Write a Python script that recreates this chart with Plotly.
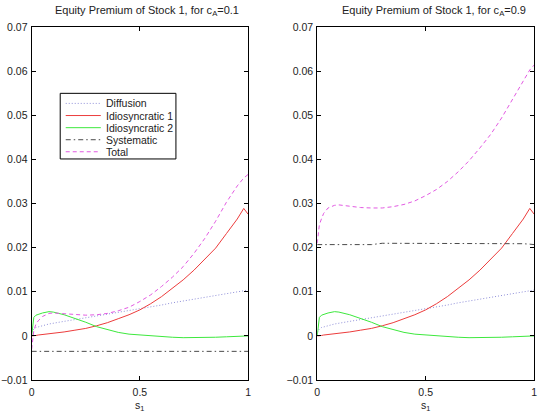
import plotly.graph_objects as go

# ---------------- data ----------------
s1 = [0, 0.005, 0.01, 0.02, 0.03, 0.05, 0.08, 0.1, 0.15, 0.2, 0.25, 0.3, 0.35,
      0.4, 0.45, 0.5, 0.55, 0.6, 0.65, 0.7, 0.75, 0.8, 0.85, 0.9, 0.95, 0.98, 1.0]

diffusion = [0.0008, 0.0013, 0.0016, 0.0019, 0.0020, 0.0023, 0.0027, 0.0029, 0.0033,
             0.0037, 0.0041, 0.0045, 0.0050, 0.0054, 0.0058, 0.0062, 0.0066, 0.0070,
             0.0075, 0.0079, 0.0083, 0.0087, 0.0091, 0.0095, 0.0099, 0.0102, 0.0104]

idio1 = [0.0, 0.0, 0.0001, 0.0001, 0.0002, 0.0003, 0.0005, 0.0006, 0.0009, 0.0013,
         0.0017, 0.0023, 0.0030, 0.0039, 0.0048, 0.0059, 0.0073, 0.0089, 0.0107,
         0.0127, 0.0149, 0.0173, 0.0199, 0.0232, 0.0265, 0.0289, 0.0276]

idio2 = [0.0, 0.0030, 0.0042, 0.0047, 0.0049, 0.0052, 0.0055, 0.0054, 0.0048, 0.0040,
         0.0031, 0.0021, 0.0014, 0.0008, 0.0004, 0.0002, 0.0000, -0.0002, -0.0003,
         -0.0004, -0.0004, -0.0004, -0.0003, -0.0002, -0.0001, 0.0, 0.0]

systematic_01 = [-0.0035] * len(s1)
systematic_09 = [0.0207, 0.0207, 0.0207, 0.0207, 0.0207, 0.0207, 0.0207, 0.0207, 0.0207,
                 0.0207, 0.0207, 0.0210, 0.0210, 0.0210, 0.0210, 0.0210, 0.0210, 0.0210,
                 0.0210, 0.0210, 0.0210, 0.0210, 0.0210, 0.0210, 0.0209, 0.0208, 0.0207]

total_01 = [-0.0030, -0.0008, 0.0012, 0.0027, 0.0034, 0.0044, 0.0051, 0.0052, 0.0050,
            0.0048, 0.0047, 0.0048, 0.0051, 0.0057, 0.0065, 0.0078, 0.0093, 0.0112,
            0.0133, 0.0157, 0.0187, 0.0221, 0.0260, 0.0303, 0.0340, 0.0358, 0.0366]

total_09 = [0.0210, 0.0235, 0.0252, 0.0266, 0.0278, 0.0290, 0.0296, 0.0297, 0.0294,
            0.0291, 0.0290, 0.0290, 0.0293, 0.0298, 0.0306, 0.0318, 0.0332, 0.0350,
            0.0372, 0.0397, 0.0426, 0.0457, 0.0494, 0.0536, 0.0580, 0.0603, 0.0614]

series_names = ["Diffusion", "Idiosyncratic 1", "Idiosyncratic 2", "Systematic", "Total"]
titles = ["Equity Premium of Stock 1, for c<sub>A</sub>=0.1",
          "Equity Premium of Stock 1, for c<sub>A</sub>=0.9"]
x_ticks = [0, 0.5, 1]
x_ticktext = ["0", "0.5", "1"]
y_ticks = [-0.01, 0, 0.01, 0.02, 0.03, 0.04, 0.05, 0.06, 0.07]
y_ticktext = ["\u22120.01", "0", "0.01", "0.02", "0.03", "0.04", "0.05", "0.06", "0.07"]

# ---------------- styling ----------------
W, H = 541, 415
FONT = "Liberation Sans, Arial, Helvetica, sans-serif"
TXT = "#222222"
styles = [
    dict(color="#8f8fd8", width=1, dash="1px,2px"),
    dict(color="#ec3c3c", width=1, dash="solid"),
    dict(color="#3de83d", width=1, dash="solid"),
    dict(color="#4a4a4a", width=1, dash="5px,3px,1.5px,3px"),
    dict(color="#e25ae2", width=1, dash="4px,3px"),
]

panels = [
    [diffusion, idio1, idio2, systematic_01, total_01],
    [diffusion, idio1, idio2, systematic_09, total_09],
]

fig = go.Figure()
for p, data in enumerate(panels):
    xa = "x" if p == 0 else "x2"
    ya = "y" if p == 0 else "y2"
    for name, ys, st in zip(series_names, data, styles):
        fig.add_trace(go.Scatter(
            x=s1, y=ys, mode="lines", name=name, line=st,
            xaxis=xa, yaxis=ya, showlegend=False))


# target pixel -> paper coordinate (with a small compensation for the capture)
def px_x(v):
    return ((v - 3.4) / 0.987) / W


def px_y(v):
    return 1 - ((v - 2.0) / 0.984) / H


y_dom = [px_y(381), px_y(23.4)]
x_doms = [[px_x(32), px_x(248)], [px_x(317), px_x(533.5)]]

axis_common = dict(showline=True, linecolor="black", linewidth=1, mirror="ticks",
                   ticks="inside", ticklen=4, tickcolor="black", showgrid=False,
                   zeroline=False, tickfont=dict(family=FONT, size=10.5, color=TXT))

layout = dict(
    width=W, height=H, margin=dict(l=0, r=0, t=0, b=0),
    paper_bgcolor="white", plot_bgcolor="white",
    font=dict(family=FONT, size=10.5, color=TXT),
    showlegend=False,
)
for p in range(2):
    sfx = "" if p == 0 else "2"
    layout["xaxis" + sfx] = dict(domain=x_doms[p], range=[0, 1], tickvals=x_ticks,
                                 ticktext=x_ticktext, anchor="y" + sfx,
                                 ticklabelstandoff=2, **axis_common)
    layout["yaxis" + sfx] = dict(domain=y_dom, range=[-0.01, 0.07], tickvals=y_ticks,
                                 ticktext=y_ticktext, anchor="x" + sfx,
                                 ticklabelstandoff=1, **axis_common)
fig.update_layout(**layout)

# titles and axis labels
title_x = [px_x(147), px_x(433.5)]
label_x = [px_x(140), px_x(425)]
for p in range(2):
    fig.add_annotation(text=titles[p], x=title_x[p], y=px_y(7.5), xref="paper", yref="paper",
                       xanchor="center", yanchor="middle", showarrow=False,
                       font=dict(family=FONT, size=11, color=TXT))
    fig.add_annotation(text="s<sub>1</sub>", x=label_x[p], y=px_y(407), xref="paper",
                       yref="paper", xanchor="center", yanchor="middle", showarrow=False,
                       font=dict(family=FONT, size=10.5, color=TXT))

# legend box (MATLAB style, compact rows)
box_l, box_t, box_r, box_b = 60.5, 90.5, 176, 157
fig.add_shape(type="rect", xref="paper", yref="paper",
              x0=px_x(box_l), x1=px_x(box_r), y0=px_y(box_b), y1=px_y(box_t),
              line=dict(color="black", width=1), fillcolor="white", layer="above")
row_y = [100.7, 113, 125.3, 137.5, 149.7]
for name, st, ry in zip(series_names, styles, row_y):
    fig.add_shape(type="line", xref="paper", yref="paper",
                  x0=px_x(66), x1=px_x(101), y0=px_y(ry), y1=px_y(ry),
                  line=st, layer="above")
    fig.add_annotation(text=name, x=px_x(104.5), y=px_y(ry), xref="paper", yref="paper",
                       xanchor="left", yanchor="middle", showarrow=False,
                       font=dict(family=FONT, size=10.5, color=TXT))

fig.write_html("out.html")
